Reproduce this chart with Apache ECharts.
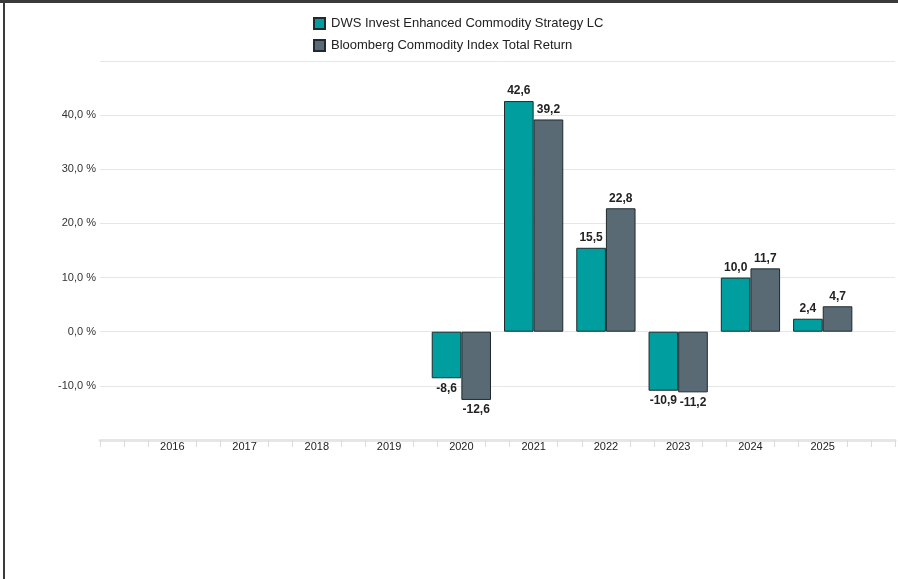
<!DOCTYPE html>
<html>
<head>
<meta charset="utf-8">
<script src="https://cdn.jsdelivr.net/npm/echarts@6/dist/echarts.min.js"></script>
<style>
html,body{margin:0;padding:0;background:#fff;}
#c{width:898px;height:579px;}
</style>
</head>
<body>
<div id="c"></div>
<script>
var years = ['2016','2017','2018','2019','2020','2021','2022','2023','2024','2025'];
var dwsValues = [null,null,null,null,-8.6,42.6,15.5,-10.9,10.0,2.4];
var bcomValues = [null,null,null,null,-12.6,39.2,22.8,-11.2,11.7,4.7];
var seriesNames = ['DWS Invest Enhanced Commodity Strategy LC','Bloomberg Commodity Index Total Return'];
var yTicks = [-20,-10,0,10,20,30,40,50];

var cats = [''].concat(years, ['']);
function fmt(v){ return v.toFixed(1).replace('.', ','); }
function build(arr){
  var out = [null];
  arr.forEach(function(v){
    if (v === null) { out.push(null); return; }
    out.push({value: v, label: {position: v < 0 ? 'bottom' : 'top'}});
  });
  out.push(null);
  return out;
}
// minor tick positions (thirds of a category slot), skipping label centres
var tickPos = [];
for (var i = 0; i <= 33; i++) { if (i % 3 !== 0 || i === 0 || i === 33) tickPos.push(i); }

var chart = echarts.init(document.getElementById('c'));
var labelStyle = {show: true, distance: 4, fontSize: 12, fontWeight: 'bold', color: '#222',
  fontFamily: 'Liberation Sans, Arial, sans-serif',
  formatter: function(p){ return fmt(p.value); }};
chart.setOption({
  animation: false,
  textStyle: {fontFamily: 'Liberation Sans, Arial, sans-serif'},
  graphic: [
    {type: 'rect', shape: {x: 0, y: 0, width: 898, height: 3}, style: {fill: '#3a3a3a'}},
    {type: 'rect', shape: {x: 3, y: 0, width: 2, height: 579}, style: {fill: '#3a3a3a'}}
  ],
  legend: {
    orient: 'vertical', left: 308, top: 12, itemGap: 9, itemWidth: 11, itemHeight: 11,
    icon: 'rect',
    textStyle: {fontSize: 13, color: '#222', padding: [0, 0, 0, 1]},
    data: seriesNames
  },
  grid: {left: 100, right: 3, top: 61, bottom: 139, containLabel: false},
  xAxis: [{
    type: 'category', data: cats, boundaryGap: false,
    axisLine: {show: true, onZero: false, lineStyle: {color: '#e6e6e6', width: 3}},
    axisTick: {show: false},
    axisLabel: {fontSize: 11, color: '#222', margin: 1, interval: 0},
    splitLine: {show: false}
  }, {
    type: 'value', min: 0, max: 33, position: 'bottom',
    axisLine: {show: false, onZero: false},
    axisTick: {show: true, customValues: tickPos, length: 7, lineStyle: {color: '#dcdcdc', width: 1}},
    axisLabel: {show: false},
    splitLine: {show: false}
  }],
  yAxis: {
    type: 'value', min: -20, max: 50, interval: 10,
    axisLine: {show: false}, axisTick: {show: false},
    axisLabel: {fontSize: 11, color: '#333', margin: 4,
      formatter: function(v){ return (v === yTicks[0] || v === yTicks[yTicks.length-1]) ? '' : fmt(v) + ' %'; }},
    splitLine: {lineStyle: {color: '#e6e6e6', width: 1}}
  },
  series: [{
    name: seriesNames[0], type: 'bar', data: build(dwsValues), barGap: '0%', barCategoryGap: '18%',
    itemStyle: {color: '#009e9f', borderColor: '#1e2a2e', borderWidth: 1},
    label: labelStyle
  }, {
    name: seriesNames[1], type: 'bar', data: build(bcomValues), barGap: '0%', barCategoryGap: '18%',
    itemStyle: {color: '#5a6a75', borderColor: '#1e2a2e', borderWidth: 1},
    label: labelStyle
  }]
});
</script>
</body>
</html>
